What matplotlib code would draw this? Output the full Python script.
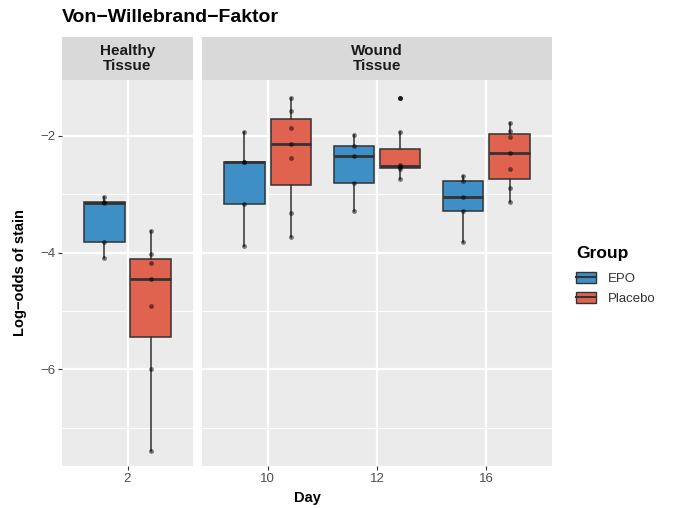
import numpy as np
import matplotlib.pyplot as plt
from matplotlib.patches import Patch
from matplotlib.lines import Line2D

plt.rcParams['font.family'] = ['Liberation Sans', 'DejaVu Sans']

# data (log-odds of stain per animal)
healthy_days = ['2']
wound_days = ['10', '12', '16']
groups = ['EPO', 'Placebo']
colors = ['#3d8fc6', '#e0634f']

epo_healthy = [[-3.04, -3.14, -3.15, -3.82, -4.09]]
placebo_healthy = [[-3.63, -4.03, -4.18, -4.45, -4.91, -6.00, -7.40]]

epo_wound = [[-1.94, -2.44, -2.44, -3.16, -3.89],
             [-1.98, -2.17, -2.34, -2.81, -3.29],
             [-2.69, -2.77, -3.05, -3.28, -3.82]]
placebo_wound = [[-1.35, -1.57, -1.86, -2.13, -2.37, -3.32, -3.73],
                 [-1.35, -1.94, -2.50, -2.51, -2.54, -2.56, -2.74],
                 [-1.77, -1.91, -2.01, -2.29, -2.57, -2.90, -3.14]]

W, H = 681, 508
fig = plt.figure(figsize=(6.81, 5.08), dpi=100)


def px_axes(x0, y0, x1, y1):
    return fig.add_axes([x0 / W, 1 - y1 / H, (x1 - x0) / W, (y1 - y0) / H])


ylim = (-7.66, -1.04)
off = 0.212
bw = 0.37


def draw_panel(ax, days, epo, plac):
    n = len(days)
    ax.set_facecolor('#ebebeb')
    ax.set_xlim(0.4, n + 0.6)
    ax.set_ylim(*ylim)
    for y in [-7, -5, -3, -1]:
        ax.axhline(y, color='white', lw=0.8, zorder=0)
    for y in [-6, -4, -2]:
        ax.axhline(y, color='white', lw=1.6, zorder=0)
    for i in range(n):
        ax.axvline(i + 1, color='white', lw=1.6, zorder=0)
    for g, (vals, col, sgn) in enumerate([(epo, colors[0], -1), (plac, colors[1], 1)]):
        pos = np.arange(1, n + 1) + sgn * off
        ax.boxplot(vals, positions=pos, widths=bw, patch_artist=True,
                   showcaps=False, whis=1.5, manage_ticks=False,
                   boxprops=dict(facecolor=col, edgecolor='#333333', lw=1.1),
                   medianprops=dict(color='#333333', lw=2.0),
                   whiskerprops=dict(color='#333333', lw=1.1),
                   flierprops=dict(marker='o', markersize=3.5, markerfacecolor='#333333',
                                   markeredgecolor='none'),
                   zorder=2)
        for p, v in zip(pos, vals):
            ax.scatter([p] * len(v), v, s=12, color='black', alpha=0.5, lw=0, zorder=3)
    ax.set_xticks(np.arange(1, n + 1))
    ax.set_xticklabels(days)
    for s in ax.spines.values():
        s.set_visible(False)
    ax.tick_params(length=3, width=0.8, color='#333333', labelcolor='#4d4d4d',
                   labelsize=9.5, pad=2)


ax1 = px_axes(62, 80, 193, 466)
ax2 = px_axes(202, 80, 552, 466)
draw_panel(ax1, healthy_days, epo_healthy, placebo_healthy)
draw_panel(ax2, wound_days, epo_wound, placebo_wound)
ax1.set_yticks([-6, -4, -2])
ax2.set_yticks([])
ax2.tick_params(axis='y', length=0)

for (x0, x1), lab in [((62, 193), 'Healthy\nTissue'), ((202, 552), 'Wound\nTissue')]:
    sa = px_axes(x0, 37, x1, 80)
    sa.set_facecolor('#d9d9d9')
    sa.set_xticks([])
    sa.set_yticks([])
    for s in sa.spines.values():
        s.set_visible(False)
    sa.text(0.5, 0.5, lab, ha='center', va='center', fontsize=11,
            fontweight='bold', color='#1a1a1a', linespacing=1.1,
            transform=sa.transAxes)

fig.text(62 / W, 1 - 18 / H, 'Von\u2212Willebrand\u2212Faktor', fontsize=14,
         fontweight='bold', ha='left', va='center')
fig.text(20 / W, 1 - 273 / H, 'Log\u2212odds of stain', rotation=90, fontsize=10.5,
         fontweight='bold', ha='center', va='center')
fig.text(307 / W, 1 - 498 / H, 'Day', fontsize=10.5, fontweight='bold',
         ha='center', va='center')

handles = [(Patch(facecolor=c, edgecolor='#333333', lw=1),
            Line2D([], [], color='#333333', lw=1.5)) for c in colors]
leg = fig.legend(handles, groups, title='Group', loc='upper left',
                 bbox_to_anchor=(564 / W, 1 - 234 / H), frameon=False,
                 fontsize=9.5, title_fontsize=12.5, handlelength=1.5,
                 handleheight=0.9, labelspacing=0.55, handletextpad=0.9)
leg.get_title().set_fontweight('bold')
leg._legend_box.align = 'left'
leg._legend_box.sep = 8
for t in leg.get_texts():
    t.set_color('#333333')

fig.savefig('out.png', dpi=100)
